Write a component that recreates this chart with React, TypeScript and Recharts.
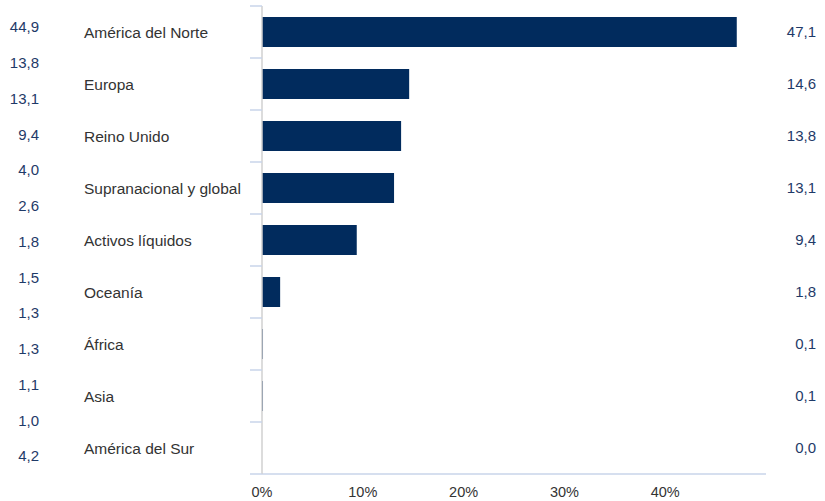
import { Bar, BarChart, XAxis, YAxis } from "recharts";

const regions = [
  "América del Norte",
  "Europa",
  "Reino Unido",
  "Supranacional y global",
  "Activos líquidos",
  "Oceanía",
  "África",
  "Asia",
  "América del Sur",
];
const weights = [47.1, 14.6, 13.8, 13.1, 9.4, 1.8, 0.1, 0.1, 0.0];

// column of figures shown at the far left of the picture
const sideFigures = [44.9, 13.8, 13.1, 9.4, 4.0, 2.6, 1.8, 1.5, 1.3, 1.3, 1.1, 1.0, 4.2];

const xTicks = [0, 10, 20, 30, 40];

const NAVY = "#012b5d";
const TEXT_NAVY = "#1f3a68";
const FONT = "'Liberation Sans', Arial, sans-serif";

const W = 825;
const H = 501;
const TOP = 6;
const X_AXIS_H = 27;
const LABEL_WIDTH = 178;
const SIDE_WIDTH = 84;
const BAND = (H - TOP - X_AXIS_H) / regions.length;

const fmt = (v: number) => v.toFixed(1).replace(".", ",");

const data = regions.map((name, i) => ({ name, value: weights[i] }));
const sideData = sideFigures.map((v, i) => ({ key: `s${i}`, value: v }));

function RegionTick(props: any) {
  const { x, y, index } = props;
  const tickColor = "#c9d5ea";
  return (
    <g>
      <line x1={x - 12} x2={x} y1={y - BAND / 2} y2={y - BAND / 2} stroke={tickColor} strokeWidth={1.5} />
      {index === regions.length - 1 && (
        <line x1={x - 12} x2={x} y1={y + BAND / 2} y2={y + BAND / 2} stroke={tickColor} strokeWidth={1.5} />
      )}
      <text x={x - LABEL_WIDTH} y={y} dy="0.355em" textAnchor="start" fontSize={15.5} fill="#333" fontFamily={FONT}>
        {regions[index]}
      </text>
    </g>
  );
}

function ValueTick(props: any) {
  const { x, y, index } = props;
  return (
    <text x={x + 50} y={y} dy="0.355em" textAnchor="end" fontSize={15} fill={TEXT_NAVY} fontFamily={FONT}>
      {fmt(weights[index])}
    </text>
  );
}

function SideTick(props: any) {
  const { x, y, index } = props;
  return (
    <text x={x - 45} y={y} dy="0.355em" textAnchor="end" fontSize={15} fill={TEXT_NAVY} fontFamily={FONT}>
      {fmt(sideFigures[index])}
    </text>
  );
}

export default function App() {
  return (
    <div style={{ position: "absolute", left: 0, top: 0, width: W, height: H, background: "#fff" }}>
      <BarChart
        width={W}
        height={H}
        data={data}
        layout="vertical"
        margin={{ top: TOP, right: 0, bottom: 0, left: SIDE_WIDTH }}
      >
        <XAxis
          type="number"
          domain={[0, 50]}
          ticks={xTicks}
          interval={0}
          tickFormatter={(v) => `${v}%`}
          axisLine={{ stroke: "#c9d5ea", strokeWidth: 1.5 }}
          tickLine={false}
          tickSize={0}
          tickMargin={13}
          height={X_AXIS_H}
          tick={{ fontSize: 14.5, fill: "#333", fontFamily: FONT }}
        />
        <YAxis
          yAxisId="cat"
          type="category"
          dataKey="name"
          interval={0}
          width={LABEL_WIDTH}
          tickSize={0}
          tickMargin={0}
          tickLine={false}
          axisLine={{ stroke: "#d0d0d0", strokeWidth: 1.5 }}
          tick={<RegionTick />}
        />
        <YAxis
          yAxisId="val"
          orientation="right"
          type="category"
          dataKey="name"
          interval={0}
          width={59}
          tickSize={0}
          tickMargin={0}
          tickLine={false}
          axisLine={false}
          tick={<ValueTick />}
        />
        <Bar dataKey="value" yAxisId="cat" fill={NAVY} barSize={30} isAnimationActive={false} />
      </BarChart>

      <div style={{ position: "absolute", left: 0, top: 0 }}>
        <BarChart
          width={SIDE_WIDTH}
          height={H}
          data={sideData}
          layout="vertical"
          margin={{ top: 9, right: 0, bottom: 27, left: 0 }}
        >
          <XAxis type="number" hide />
          <YAxis
            type="category"
            dataKey="key"
            interval={0}
            width={SIDE_WIDTH}
            tickSize={0}
            tickMargin={0}
            tickLine={false}
            axisLine={false}
            tick={<SideTick />}
          />
        </BarChart>
      </div>
    </div>
  );
}
